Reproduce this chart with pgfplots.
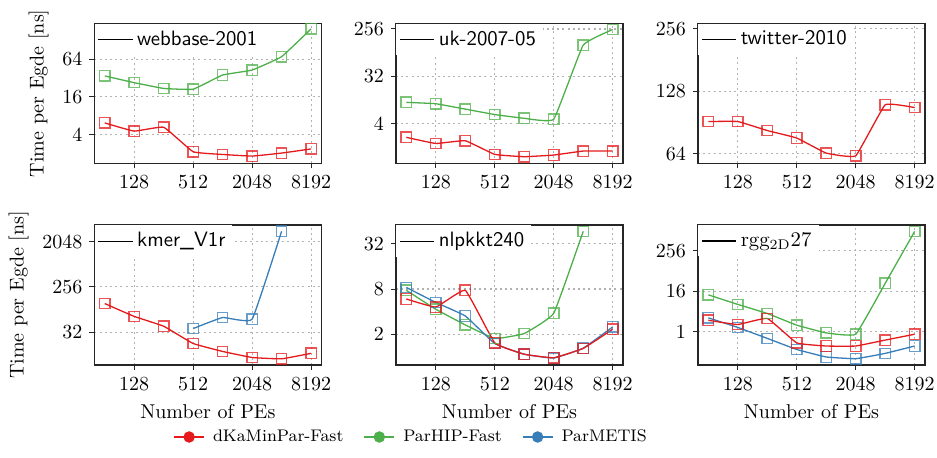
\documentclass[border=0pt]{standalone}
\usepackage{pgfplots}
\pgfplotsset{compat=1.18}
\definecolor{cR}{HTML}{E41A1C}
\definecolor{cG}{HTML}{4DAF4A}
\definecolor{cB}{HTML}{377EB8}
\tikzset{ser/.style={line width=0.65pt, smooth, tension=0.18, mark=square, mark size=2.6pt, mark options={solid, draw opacity=0.75}}}
\begin{document}
\begin{tikzpicture}
\useasboundingbox (0,0) rectangle (468.5pt,228.5pt);
% top-left: webbase
\begin{axis}[scale only axis, width=113.5pt, height=70pt,
    xmode=log, ymode=log, log basis x=2, log basis y=2,
    xmin=50.21, xmax=10441,
    xtick={128,512,2048,8192}, xticklabels={128,512,2048,8192},
    grid=major, grid style={dash pattern=on 1pt off 1.6pt, gray!60, line width=0.55pt},
    axis line style={line width=0.65pt, black!85},
    tick align=outside, xtick pos=bottom, ytick pos=left,
    major tick length=2.5pt, tick style={black!85, line width=0.5pt},
    legend style={at={(0,1)}, anchor=north west, draw=none, fill=white, font=\fontsize{10.4}{12}\selectfont\sffamily, inner sep=1.5pt},
    legend cell align=left,
  ylabel={Time per Egde [ns]}, at={(47.2pt,146.85pt)}, anchor=south west,
  ymin=1.37, ymax=242, ytick={4,16,64}, yticklabels={4,16,64}]
\addlegendimage{black, no marks, line width=0.6pt}
\addlegendentry{webbase-2001}
\addplot[cG, ser] coordinates {(64,34.6)(128,27)(256,21.8)(512,21.2)(1024,35.8)(2048,43)(4096,70.5)(8192,197)};
\addplot[cR, ser] coordinates {(64,6.1)(128,4.5)(256,5.2)(512,2.1)(1024,1.9)(2048,1.79)(4096,2.0)(8192,2.33)};
\end{axis}
% top-middle: uk
\begin{axis}[scale only axis, width=113.5pt, height=70pt,
    xmode=log, ymode=log, log basis x=2, log basis y=2,
    xmin=50.21, xmax=10441,
    xtick={128,512,2048,8192}, xticklabels={128,512,2048,8192},
    grid=major, grid style={dash pattern=on 1pt off 1.6pt, gray!60, line width=0.55pt},
    axis line style={line width=0.65pt, black!85},
    tick align=outside, xtick pos=bottom, ytick pos=left,
    major tick length=2.5pt, tick style={black!85, line width=0.5pt},
    legend style={at={(0,1)}, anchor=north west, draw=none, fill=white, font=\fontsize{10.4}{12}\selectfont\sffamily, inner sep=1.5pt},
    legend cell align=left,
  at={(198pt,146.85pt)}, anchor=south west,
  ymin=0.688, ymax=329, ytick={4,32,256}, yticklabels={4,32,256}]
\addlegendimage{black, no marks, line width=0.6pt}
\addlegendentry{uk-2007-05}
\addplot[cG, ser] coordinates {(64,10.1)(128,9.5)(256,7.5)(512,5.9)(1024,5.0)(2048,4.8)(4096,126)(8192,250)};
\addplot[cR, ser] coordinates {(64,2.16)(128,1.65)(256,1.86)(512,1.02)(1024,0.92)(2048,0.99)(4096,1.18)(8192,1.18)};
\end{axis}
% top-right: twitter
\begin{axis}[scale only axis, width=113.5pt, height=70pt,
    xmode=log, ymode=log, log basis x=2, log basis y=2,
    xmin=50.21, xmax=10441,
    xtick={128,512,2048,8192}, xticklabels={128,512,2048,8192},
    grid=major, grid style={dash pattern=on 1pt off 1.6pt, gray!60, line width=0.55pt},
    axis line style={line width=0.65pt, black!85},
    tick align=outside, xtick pos=bottom, ytick pos=left,
    major tick length=2.5pt, tick style={black!85, line width=0.5pt},
    legend style={at={(0,1)}, anchor=north west, draw=none, fill=white, font=\fontsize{10.4}{12}\selectfont\sffamily, inner sep=1.5pt},
    legend cell align=left,
  at={(349pt,146.85pt)}, anchor=south west,
  ymin=57.4, ymax=272, ytick={64,128,256}, yticklabels={64,128,256}]
\addlegendimage{black, no marks, line width=0.6pt}
\addlegendentry{twitter-2010}
\addplot[cR, ser] coordinates {(64,91.3)(128,91.3)(256,82.6)(512,76)(1024,64.3)(2048,62.4)(4096,110)(8192,106.6)};
\end{axis}
% bottom-left: kmer
\begin{axis}[scale only axis, width=113.5pt, height=70pt,
    xmode=log, ymode=log, log basis x=2, log basis y=2,
    xmin=50.21, xmax=10441,
    xtick={128,512,2048,8192}, xticklabels={128,512,2048,8192},
    grid=major, grid style={dash pattern=on 1pt off 1.6pt, gray!60, line width=0.55pt},
    axis line style={line width=0.65pt, black!85},
    tick align=outside, xtick pos=bottom, ytick pos=left,
    major tick length=2.5pt, tick style={black!85, line width=0.5pt},
    legend style={at={(0,1)}, anchor=north west, draw=none, fill=white, font=\fontsize{10.4}{12}\selectfont\sffamily, inner sep=1.5pt},
    legend cell align=left,
  ylabel={Time per Egde [ns]}, xlabel={Number of PEs}, at={(47.2pt,46pt)}, anchor=south west,
  ymin=7.08, ymax=4390, ytick={32,256,2048}, yticklabels={32,256,2048}]
\addlegendimage{black, no marks, line width=0.6pt}
\addlegendentry{kmer\_V1r}
\addplot[cB, ser] coordinates {(512,37.8)(1024,62.7)(2048,58)(4096,3290)};
\addplot[cR, ser] coordinates {(64,119)(128,66)(256,42)(512,19)(1024,13.2)(2048,10)(4096,9.4)(8192,12.1)};
\end{axis}
% bottom-middle: nlpkkt240
\begin{axis}[scale only axis, width=113.5pt, height=70pt,
    xmode=log, ymode=log, log basis x=2, log basis y=2,
    xmin=50.21, xmax=10441,
    xtick={128,512,2048,8192}, xticklabels={128,512,2048,8192},
    grid=major, grid style={dash pattern=on 1pt off 1.6pt, gray!60, line width=0.55pt},
    axis line style={line width=0.65pt, black!85},
    tick align=outside, xtick pos=bottom, ytick pos=left,
    major tick length=2.5pt, tick style={black!85, line width=0.5pt},
    legend style={at={(0,1)}, anchor=north west, draw=none, fill=white, font=\fontsize{10.4}{12}\selectfont\sffamily, inner sep=1.5pt},
    legend cell align=left,
  xlabel={Number of PEs}, at={(198pt,46pt)}, anchor=south west,
  ymin=0.776, ymax=57.2, ytick={2,8,32}, yticklabels={2,8,32}]
\addlegendimage{black, no marks, line width=0.6pt}
\addlegendentry{nlpkkt240}
\addplot[cG, ser] coordinates {(64,7.7)(128,4.3)(256,2.66)(512,1.75)(1024,2.04)(2048,3.8)(4096,47)};
\addplot[cB, ser] coordinates {(64,8.4)(128,5.3)(256,3.5)(512,1.5)(1024,1.08)(2048,0.96)(4096,1.3)(8192,2.5)};
\addplot[cR, ser] coordinates {(64,5.9)(128,4.6)(256,7.7)(512,1.53)(1024,1.08)(2048,0.97)(4096,1.29)(8192,2.33)};
\end{axis}
% bottom-right: rgg
\begin{axis}[scale only axis, width=113.5pt, height=70pt,
    xmode=log, ymode=log, log basis x=2, log basis y=2,
    xmin=50.21, xmax=10441,
    xtick={128,512,2048,8192}, xticklabels={128,512,2048,8192},
    grid=major, grid style={dash pattern=on 1pt off 1.6pt, gray!60, line width=0.55pt},
    axis line style={line width=0.65pt, black!85},
    tick align=outside, xtick pos=bottom, ytick pos=left,
    major tick length=2.5pt, tick style={black!85, line width=0.5pt},
    legend style={at={(0,1)}, anchor=north west, draw=none, fill=white, font=\fontsize{10.4}{12}\selectfont\rmfamily, inner sep=1.5pt},
    legend cell align=left,
  xlabel={Number of PEs}, at={(349pt,46pt)}, anchor=south west,
  ymin=0.104, ymax=1468, ytick={1,16,256}, yticklabels={1,16,256}]
\addlegendimage{black, no marks, line width=0.6pt}
\addlegendentry{rgg$_{\mathrm{2D}}$27}
\addplot[cG, ser] coordinates {(64,12.5)(128,6.5)(256,3.5)(512,1.58)(1024,0.93)(2048,0.85)(4096,27.5)(8192,950)};
\addplot[cB, ser] coordinates {(64,2.6)(128,1.35)(256,0.64)(512,0.3)(1024,0.18)(2048,0.16)(4096,0.23)(8192,0.38)};
\addplot[cR, ser] coordinates {(64,2.2)(128,1.65)(256,2.5)(512,0.47)(1024,0.38)(2048,0.38)(4096,0.57)(8192,0.85)};
\end{axis}
% bottom legend
\begin{axis}[hide axis, scale only axis, width=10pt, height=10pt,
  at={(206pt,10pt)}, anchor=center, xmin=0, xmax=1, ymin=0, ymax=1,
  legend columns=3,
  legend style={at={(0.5,0.5)}, anchor=center, draw=none, fill=none,
    font=\fontsize{8.4}{10}\selectfont,
    /tikz/every odd column/.append style={column sep=2pt},
    /tikz/every even column/.append style={column sep=8pt}},
  legend image code/.code={\draw[#1, mark repeat=2, mark phase=2] plot coordinates {(0pt,0pt) (7.5pt,0pt) (15pt,0pt)};}]
\addlegendimage{cR, line width=0.9pt, mark=*, mark size=2.4pt}
\addlegendentry{dKaMinPar-Fast}
\addlegendimage{cG, line width=0.9pt, mark=*, mark size=2.4pt}
\addlegendentry{ParHIP-Fast}
\addlegendimage{cB, line width=0.9pt, mark=*, mark size=2.4pt}
\addlegendentry{ParMETIS}
\end{axis}
\end{tikzpicture}
\end{document}
